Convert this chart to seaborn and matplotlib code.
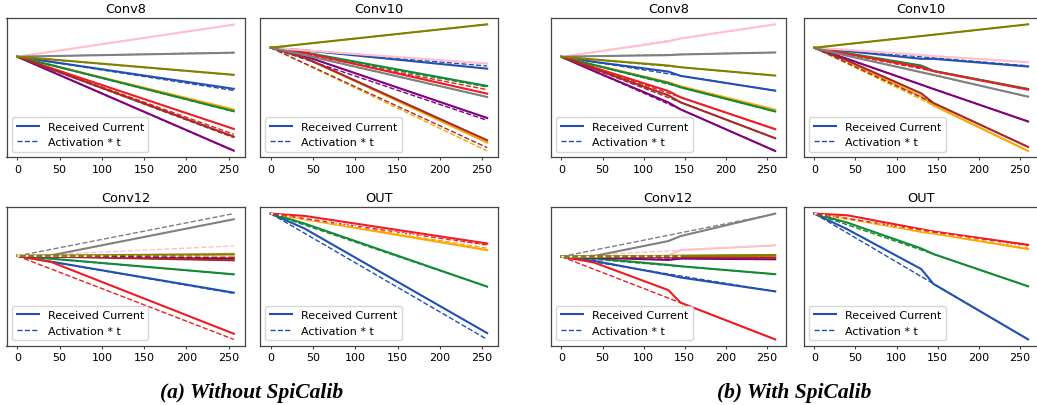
import pandas as pd
import matplotlib.pyplot as plt
import seaborn as sns
from matplotlib.lines import Line2D

# line colours, in plotting order
COLORS = ['blue', 'orange', 'green', 'red', 'purple', 'brown', 'pink', 'gray', 'olive']
PALETTE = {'blue': '#2150b0', 'orange': '#ffa500', 'green': '#138a36', 'red': '#ee1c24',
           'purple': '#800080', 'brown': '#a52a2a', 'pink': '#ffc0cb', 'gray': '#808080',
           'olive': '#808000'}

# time knots of the received current curves
T_A = [0, 40, 256]
T_B = [0, 40, 130, 145, 260]

# ---- (a) Without SpiCalib : received current at T_A, activation*t at the last step
a_conv8_current = [[0, -15, -96], [0, -25, -158], [0, -25, -163], [0, -34, -216], [0, -44, -281],
                   [0, -37, -239], [0, 15, 96], [0, 2, 12], [0, -8, -54]]
a_conv8_activation = [-101, -160, -164, -232, -282, -242, 97, 13, -55]

a_conv10_current = [[0, -8, -63], [0, -30, -285], [0, -14, -115], [0, -15, -138], [0, -25, -211],
                    [0, -30, -278], [0, -8, -48], [0, -22, -148], [0, 11, 70]]
a_conv10_activation = [-55, -310, -118, -126, -218, -300, -47, -148, 70]

a_conv12_current = [[0, -17, -110], [0, 0, -2], [0, -8, -55], [0, -18, -233], [0, -1, -7],
                    [0, -2, -13], [0, 1, 7], [0, 2, 110], [0, 1, 5]]
a_conv12_activation = [-112, -2, -55, -250, -7, -12, 30, 127, 5]
a_conv12_white = (256, -2)

a_out_current = [[0, -45, -360], [0, -17, -110], [0, -30, -220], [0, -7, -90]]
a_out_activation = [-379, -104, -220, -95]
a_out_white = (256, -99)

# ---- (b) With SpiCalib : received current at T_B
b_conv8_current = [[0, -15, -44, -57, -101], [0, -24, -76, -88, -158], [0, -25, -78, -91, -163],
                   [0, -32, -102, -121, -216], [0, -43, -136, -157, -281], [0, -36, -115, -136, -243],
                   [0, 14, 46, 55, 97], [0, 2, 5, 7, 13], [0, -8, -26, -31, -56]]
b_conv8_activation = [-101, -158, -163, -216, -281, -243, 97, 13, -56]

b_conv10_current = [[0, -10, -33, -33, -56], [0, -40, -145, -172, -308], [0, -16, -53, -69, -123],
                    [0, -18, -58, -70, -125], [0, -33, -110, -123, -220], [0, -38, -136, -165, -296],
                    [0, -6, -22, -25, -43], [0, -24, -73, -81, -146], [0, 11, 35, 39, 70]]
b_conv10_activation = [-54, -308, -123, -125, -220, -296, -43, -146, 70]

b_conv12_current = [[0, -13, -55, -63, -105], [0, 0, 0, 1, 1], [0, -5, -25, -29, -53],
                    [0, -18, -101, -139, -250], [0, -3, -10, -6, -8], [0, -1, -2, -2, -3],
                    [0, 1, 3, 20, 34], [0, 2, 47, 62, 130], [0, 1, 2, 3, 5]]
b_conv12_activation = [-105, 1, -53, -250, -8, -3, 34, 129, 5]
b_conv12_white = (145, 1)

b_out_current = [[0, -47, -167, -212, -379], [0, -15, -55, -60, -107], [0, -27, -105, -122, -219],
                 [0, -5, -47, -54, -94]]
b_out_activation = [-379, -104, -219, -97]
b_out_white = (260, -101)

W, H = 1037, 406
fig = plt.figure(figsize=(W / 100, H / 100), dpi=100)


def add_ax(left, top, w, h):
    return fig.add_axes([left / W, 1 - (top + h) / H, w / W, h / H])


def draw(ax, title, t, current, activation, white=None):
    for name, cur, act in zip(COLORS, current, activation):
        c = PALETTE[name]
        sns.lineplot(x=t, y=cur, color=c, lw=1.5, ax=ax)
        sns.lineplot(x=[0, t[-1]], y=[0, act], color=c, lw=1.0, linestyle='--', ax=ax)
    if white is not None:
        sns.lineplot(x=[0, white[0]], y=[0, white[1]], color='white', lw=1.2,
                     linestyle=(0, (1.5, 3.5)), ax=ax)
    ax.set_title(title, fontsize=9.3, pad=4.5)
    ax.set(xlabel='', ylabel='')
    ax.set_yticks([])
    ax.tick_params(axis='x', labelsize=8, length=2.5, pad=2, color='#444')
    for s in ax.spines.values():
        s.set_edgecolor('#444')
        s.set_linewidth(0.9)
    blue = PALETTE['blue']
    handles = [Line2D([], [], color=blue, lw=1.5), Line2D([], [], color=blue, lw=1.0, ls='--')]
    ax.legend(handles, ['Received Current', 'Activation * t'], loc='lower left', fontsize=8)


rows = [(19, 139.3), (208.3, 138.4)]
cols_a = [6.5, 259.9]
cols_b = [550.7, 803.6]

panels_a = [('Conv8', a_conv8_current, a_conv8_activation, None),
            ('Conv10', a_conv10_current, a_conv10_activation, None),
            ('Conv12', a_conv12_current, a_conv12_activation, a_conv12_white),
            ('OUT', a_out_current, a_out_activation, a_out_white)]
panels_b = [('Conv8', b_conv8_current, b_conv8_activation, None),
            ('Conv10', b_conv10_current, b_conv10_activation, None),
            ('Conv12', b_conv12_current, b_conv12_activation, b_conv12_white),
            ('OUT', b_out_current, b_out_activation, b_out_white)]

for i, (title, cur, act, wh) in enumerate(panels_a):
    top, h = rows[i // 2]
    ax = add_ax(cols_a[i % 2], top, 238.1, h)
    draw(ax, title, T_A, cur, act, wh)

for i, (title, cur, act, wh) in enumerate(panels_b):
    top, h = rows[i // 2]
    ax = add_ax(cols_b[i % 2], top, 235.2, h)
    draw(ax, title, T_B, cur, act, wh)

cap = dict(ha='center', va='center', fontsize=15.5, family='Liberation Serif',
           weight='bold', style='italic')
fig.text(252 / W, 1 - 393 / H, '(a) Without SpiCalib', **cap)
fig.text(794 / W, 1 - 393 / H, '(b) With SpiCalib', **cap)

fig.savefig('out.png', dpi=100)
